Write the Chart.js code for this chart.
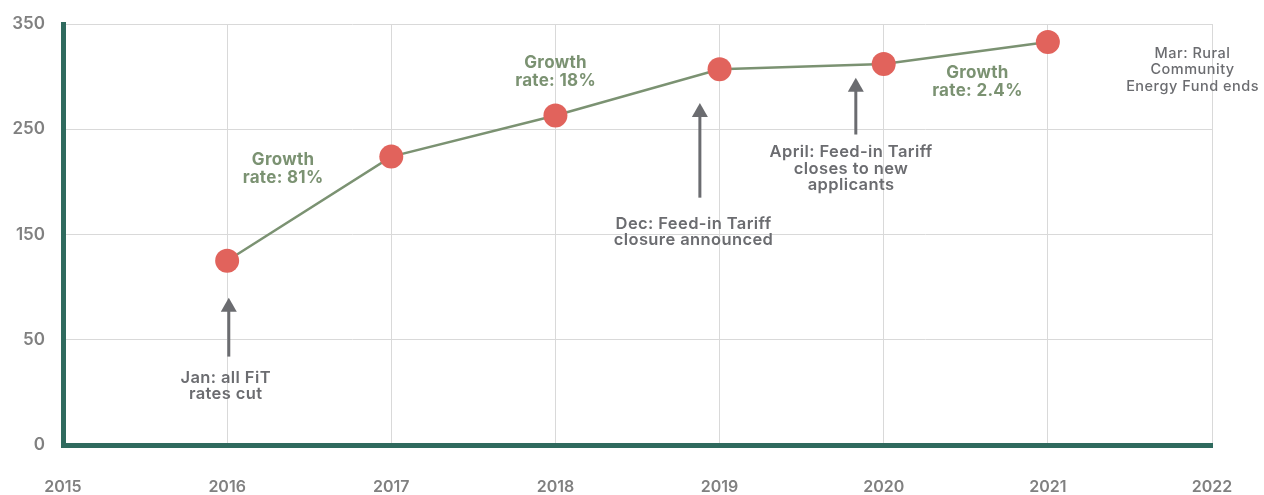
<!DOCTYPE html>
<html>
<head>
<meta charset="utf-8">
<script src="https://cdn.jsdelivr.net/npm/chart.js@4.4.1/dist/chart.umd.min.js"></script>
<style>
  html, body { margin: 0; padding: 0; background: #ffffff; }
  .chart-container { position: relative; width: 1264px; height: 495px; }
</style>
</head>
<body>
<div class="chart-container">
  <canvas id="growthChart"></canvas>
</div>
<script>
// data
const years = [2016, 2017, 2018, 2019, 2020, 2021];
const installed = [125, 224, 263, 307, 312, 333];

// axis ticks (bottom gridline is labelled 0)
const xTicks = [2015, 2016, 2017, 2018, 2019, 2020, 2021, 2022];
const yTickValues = [-50, 50, 150, 250, 350];
const yTickLabels = ["0", "50", "150", "250", "350"];

// notes: text, x (year), y (value of first line)
const growthNotes = [
  { lines: ["Growth", "rate: 81%"], x: 2016.34, y: 221 },
  { lines: ["Growth", "rate: 18%"], x: 2018.0, y: 313 },
  { lines: ["Growth", "rate: 2.4%"], x: 2020.57, y: 304 },
];
const eventNotes = [
  { lines: ["Jan: all FiT", "rates cut"], x: 2015.99, y: 14 },
  { lines: ["Dec: Feed-in Tariff", "closure announced"], x: 2018.84, y: 160 },
  { lines: ["April: Feed-in Tariff", "closes to new", "applicants"], x: 2019.8, y: 228 },
];
const smallNotes = [
  { lines: ["Mar: Rural", "Community", "Energy Fund ends"], x: 2021.88, y: 322 },
];
// arrows: x, from (tail) -> to (tip)
const arrows = [
  { x: 2016.01, from: 34, to: 90 },
  { x: 2018.88, from: 185, to: 275 },
  { x: 2019.83, from: 245, to: 299 },
];

const FONT = "Inter, sans-serif";
const axisGreen = "#2f6a5e";
const gridGray = "#d9d9d9";
const labelGray = "#808080";
const noteGray = "#6b6c70";
const lineGreen = "#7b9272";
const dotRed = "#e1635c";

// draws notes and arrows on top of the chart
const notesPlugin = {
  id: "notes",
  afterDatasetsDraw(chart) {
    const { ctx, scales } = chart;
    const xs = scales.x, ys = scales.y;
    ctx.save();
    ctx.textAlign = "center";
    ctx.textBaseline = "middle";

    const drawText = (list, font, color, lh, spacing) => {
      ctx.font = font;
      ctx.fillStyle = color;
      ctx.letterSpacing = spacing + "px";
      list.forEach((n) => {
        const px = xs.getPixelForValue(n.x) + spacing / 2;
        const py = ys.getPixelForValue(n.y);
        n.lines.forEach((t, i) => ctx.fillText(t, px, py + i * lh));
      });
    };
    drawText(growthNotes, "bold 17px " + FONT, lineGreen, 18, 0.3);
    drawText(eventNotes, "600 16.5px " + FONT, noteGray, 16.5, 0.4);
    drawText(smallNotes, "500 14.5px " + FONT, noteGray, 16.5, 0.5);
    ctx.letterSpacing = "0px";

    arrows.forEach((a) => {
      const px = xs.getPixelForValue(a.x);
      const y1 = ys.getPixelForValue(a.from);
      const y2 = ys.getPixelForValue(a.to);
      ctx.strokeStyle = noteGray;
      ctx.fillStyle = noteGray;
      ctx.lineWidth = 3;
      ctx.beginPath();
      ctx.moveTo(px, y1);
      ctx.lineTo(px, y2 + 10);
      ctx.stroke();
      ctx.beginPath();
      ctx.moveTo(px, y2);
      ctx.lineTo(px - 8, y2 + 14);
      ctx.lineTo(px + 8, y2 + 14);
      ctx.closePath();
      ctx.fill();
    });
    ctx.restore();
  },
};

const ctx = document.getElementById("growthChart").getContext("2d");
new Chart(ctx, {
  type: "line",
  data: {
    datasets: [
      {
        data: years.map((y, i) => ({ x: y, y: installed[i] })),
        borderColor: lineGreen,
        borderWidth: 2.5,
        pointRadius: 12,
        pointHoverRadius: 12,
        pointBackgroundColor: dotRed,
        pointBorderWidth: 0,
        tension: 0,
      },
    ],
  },
  options: {
    responsive: true,
    maintainAspectRatio: false,
    animation: false,
    layout: { padding: { top: 24, right: 52, left: 0, bottom: 0 } },
    plugins: { legend: { display: false }, tooltip: { enabled: false } },
    scales: {
      x: {
        type: "linear",
        min: 2015,
        max: 2022,
        afterBuildTicks: (s) => { s.ticks = xTicks.map((v) => ({ value: v })); },
        afterFit: (s) => { s.height = 50; s.paddingLeft = 0; s.paddingRight = 0; },
        ticks: {
          padding: 33,
          color: labelGray,
          font: { family: FONT, size: 16, weight: "600" },
          callback: (v) => String(v),
          maxRotation: 0,
        },
        grid: {
          color: (c) => (c.tick && c.tick.value === 2015 ? "rgba(0,0,0,0)" : gridGray),
          drawTicks: false,
        },
        border: { display: true, color: axisGreen, width: 5 },
      },
      y: {
        min: -50,
        max: 350,
        afterBuildTicks: (s) => { s.ticks = yTickValues.map((v) => ({ value: v })); },
        afterFit: (s) => { s.width = 63; s.paddingTop = 0; s.paddingBottom = 0; },
        ticks: {
          padding: 18,
          color: labelGray,
          font: { family: FONT, size: 17, weight: "600" },
          callback: (v) => yTickLabels[yTickValues.indexOf(v)],
        },
        grid: {
          color: (c) => (c.tick && c.tick.value === -50 ? "rgba(0,0,0,0)" : gridGray),
          drawTicks: false,
        },
        border: { display: true, color: axisGreen, width: 5 },
      },
    },
  },
  plugins: [notesPlugin],
});
</script>
</body>
</html>
